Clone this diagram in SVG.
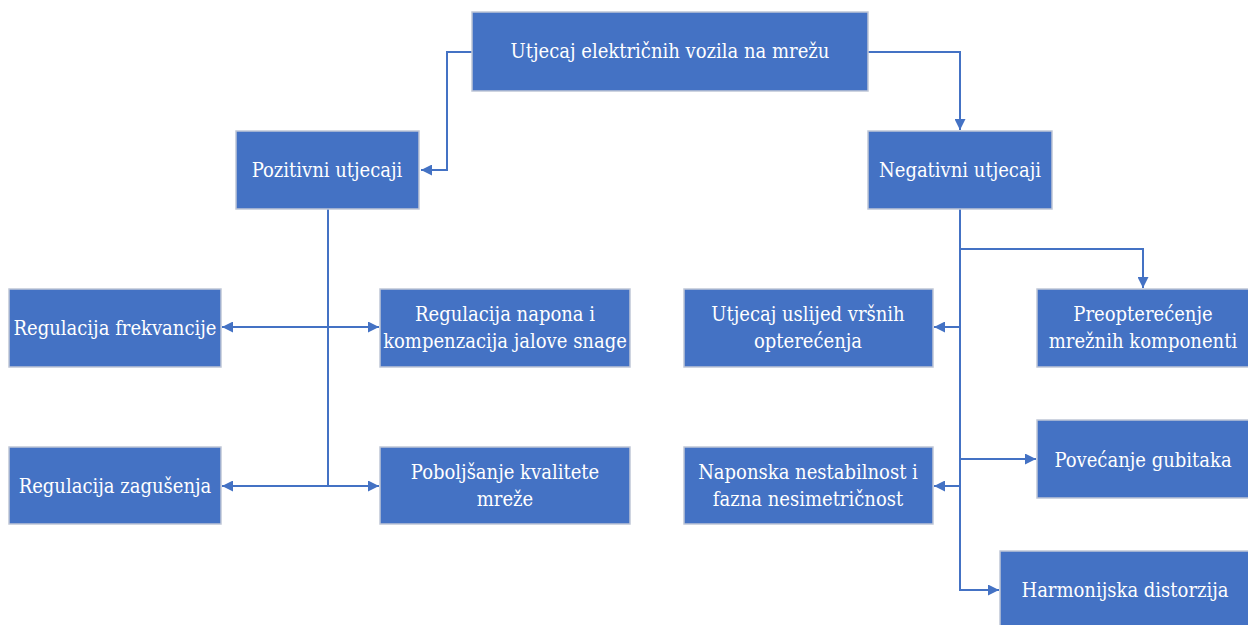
<svg xmlns="http://www.w3.org/2000/svg" width="1248" height="625" viewBox="0 0 1248 625">
<style>
.box{fill:#4472C4;stroke:#BFC6D6;stroke-width:1.5}
.t{font-family:'DejaVu Serif Condensed','DejaVu Serif',serif;font-size:20px;fill:#FFFFFF;text-anchor:middle}
.c{fill:none;stroke:#4472C4;stroke-width:2}
</style>
<defs>
<marker id="ah" viewBox="0 0 10 10" refX="10" refY="5" markerWidth="5.5" markerHeight="5.5" orient="auto-start-reverse" markerUnits="strokeWidth">
<path d="M0,0 L10,5 L0,10 z" fill="#4472C4"/>
</marker>
</defs>
<rect width="1248" height="625" fill="#FFFFFF"/>
<g id="connectors">
<path class="c" d="M472,52 H447 V170 H421" marker-end="url(#ah)"/>
<path class="c" d="M868,52 H960 V130" marker-end="url(#ah)"/>
<path class="c" d="M328,209 V486"/>
<path class="c" d="M222,327 H379" marker-start="url(#ah)" marker-end="url(#ah)"/>
<path class="c" d="M222,486 H379" marker-start="url(#ah)" marker-end="url(#ah)"/>
<path class="c" d="M960,209 V590 H999" marker-end="url(#ah)"/>
<path class="c" d="M960,249 H1143 V288" marker-end="url(#ah)"/>
<path class="c" d="M960,327 H934" marker-end="url(#ah)"/>
<path class="c" d="M960,459 H1036" marker-end="url(#ah)"/>
<path class="c" d="M960,486 H934" marker-end="url(#ah)"/>
</g>
<g id="root"><rect class="box" x="472" y="12" width="396" height="79"/><text class="t" x="670" y="58">Utjecaj električnih vozila na mrežu</text></g>
<g id="pozitivni"><rect class="box" x="236" y="131" width="183" height="78"/><text class="t" x="327" y="177">Pozitivni utjecaji</text></g>
<g id="negativni"><rect class="box" x="868" y="131" width="184" height="78"/><text class="t" x="960" y="177">Negativni utjecaji</text></g>
<g id="frekvencija"><rect class="box" x="9" y="289" width="212" height="78"/><text class="t" x="115" y="335">Regulacija frekvancije</text></g>
<g id="napon"><rect class="box" x="380" y="289" width="250" height="78"/><text class="t" x="505" y="321">Regulacija napona i</text><text class="t" x="505" y="348">kompenzacija jalove snage</text></g>
<g id="zagusenje"><rect class="box" x="9" y="447" width="212" height="77"/><text class="t" x="115" y="493">Regulacija zagušenja</text></g>
<g id="kvaliteta"><rect class="box" x="380" y="447" width="250" height="77"/><text class="t" x="505" y="479">Poboljšanje kvalitete</text><text class="t" x="505" y="506">mreže</text></g>
<g id="vrsna"><rect class="box" x="684" y="289" width="249" height="78"/><text class="t" x="808" y="321">Utjecaj uslijed vršnih</text><text class="t" x="808" y="348">opterećenja</text></g>
<g id="preopterecenje"><rect class="box" x="1037" y="289" width="212" height="78"/><text class="t" x="1143" y="321">Preopterećenje</text><text class="t" x="1143" y="348">mrežnih komponenti</text></g>
<g id="gubici"><rect class="box" x="1037" y="420" width="212" height="78"/><text class="t" x="1143" y="467">Povećanje gubitaka</text></g>
<g id="nestabilnost"><rect class="box" x="684" y="447" width="249" height="77"/><text class="t" x="808" y="479">Naponska nestabilnost i</text><text class="t" x="808" y="506">fazna nesimetričnost</text></g>
<g id="harmonijska"><rect class="box" x="1000" y="551" width="249" height="78"/><text class="t" x="1125" y="597">Harmonijska distorzija</text></g>
</svg>
